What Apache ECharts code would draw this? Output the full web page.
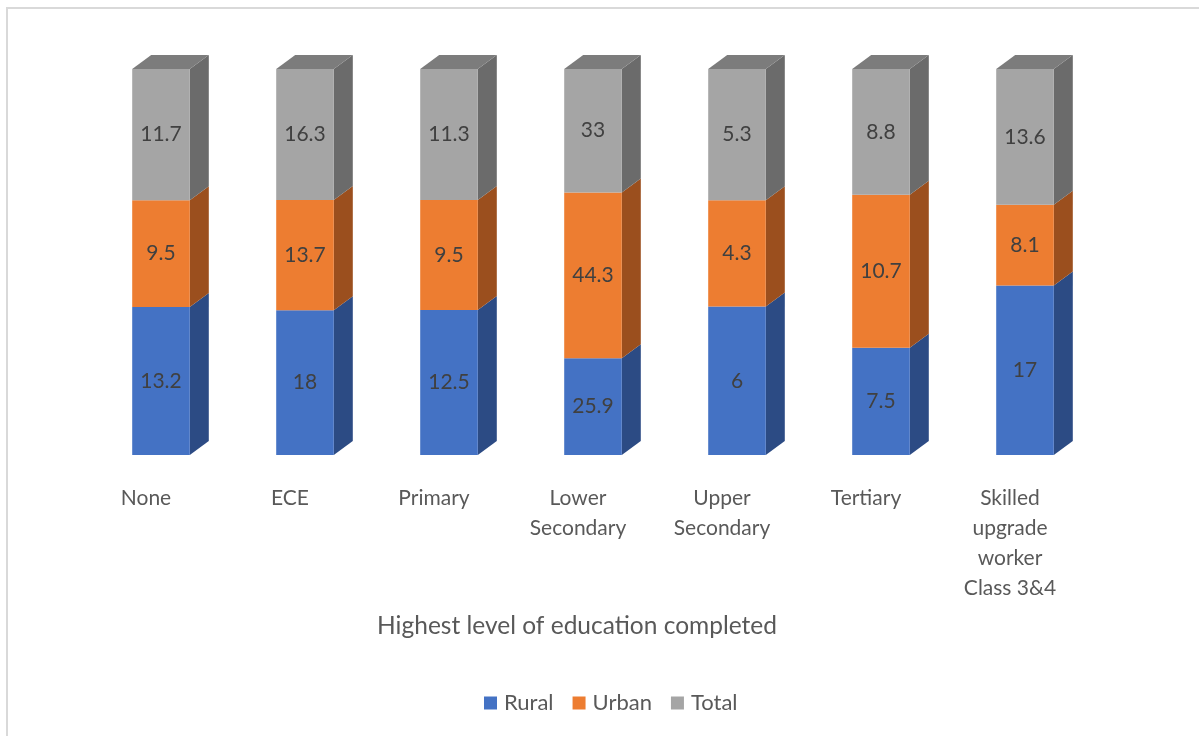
<!DOCTYPE html>
<html>
<head>
<meta charset="utf-8">
<script src="https://cdn.jsdelivr.net/npm/echarts@6/dist/echarts.min.js"></script>
<style>
  html, body { margin: 0; padding: 0; background: #fff; }
  #frame { position: absolute; left: 6px; top: 7px; width: 1300px; height: 900px;
           border: 2px solid #d9d9d9; box-sizing: border-box; }
  #chart { position: absolute; left: 0; top: 0; width: 1199px; height: 736px; }
</style>
</head>
<body>
<div id="frame"></div>
<div id="chart"></div>
<script>
// Education levels (axis labels carry their own line breaks)
const categories = ['None', 'ECE', 'Primary', 'Lower\nSecondary', 'Upper\nSecondary', 'Tertiary', 'Skilled\nupgrade\nworker\nClass 3&4'];
const rural = [13.2, 18, 12.5, 25.9, 6, 7.5, 17];
const urban = [9.5, 13.7, 9.5, 44.3, 4.3, 10.7, 8.1];
const total = [11.7, 16.3, 11.3, 33, 5.3, 8.8, 13.6];

const seriesNames = ['Rural', 'Urban', 'Total'];
const seriesValues = [rural, urban, total];
const frontColors = ['#4472C4', '#ED7D31', '#A5A5A5'];
const sideColors = ['#2C4B84', '#9B4F1E', '#6B6B6B'];
const topColors = ['#3A62A8', '#C96A29', '#7C7C7C'];

const FONT = 'Lato, "Open Sans", sans-serif';
const DEPTH_X = 19, DEPTH_Y = 14;

// 100% stacking: each category's segments are shares of its own sum
const sums = categories.map((_, i) => rural[i] + urban[i] + total[i]);
const shares = seriesValues.map(arr => arr.map((v, i) => v / sums[i] * 100));
const starts = seriesValues.map((_, s) => categories.map((_, i) => {
  let acc = 0;
  for (let k = 0; k < s; k++) acc += shares[k][i];
  return acc;
}));

function makeSeries(s) {
  const data = categories.map((_, i) => [i, starts[s][i], starts[s][i] + shares[s][i], seriesValues[s][i]]);
  const isTop = s === seriesValues.length - 1;
  return {
    type: 'custom',
    name: seriesNames[s],
    color: frontColors[s],
    data: data,
    encode: { x: 0, y: [1, 2] },
    renderItem: function (params, api) {
      const idx = api.value(0);
      const lo = api.coord([idx, api.value(1)]);
      const hi = api.coord([idx, api.value(2)]);
      const band = api.size([1, 0])[0];
      const w = band * 0.4;
      const x0 = lo[0] - w / 2, x1 = lo[0] + w / 2;
      const yb = lo[1], yt = hi[1];
      const children = [
        { type: 'polygon', shape: { points: [[x1, yt], [x1 + DEPTH_X, yt - DEPTH_Y], [x1 + DEPTH_X, yb - DEPTH_Y], [x1, yb]] },
          style: { fill: sideColors[s] } },
        { type: 'rect', shape: { x: x0, y: yt, width: w, height: yb - yt },
          style: { fill: frontColors[s] } }
      ];
      if (isTop) {
        children.push({ type: 'polygon', shape: { points: [[x0, yt], [x0 + DEPTH_X, yt - DEPTH_Y], [x1 + DEPTH_X, yt - DEPTH_Y], [x1, yt]] },
          style: { fill: topColors[s] } });
      }
      children.push({ type: 'text', style: { x: (x0 + x1) / 2, y: (yt + yb) / 2, text: String(api.value(3)),
        fill: '#404040', font: '21px ' + FONT, align: 'center', verticalAlign: 'middle' } });
      return { type: 'group', children: children };
    }
  };
}

const chart = echarts.init(document.getElementById('chart'), null, { renderer: 'canvas' });
chart.setOption({
  animation: false,
  grid: { left: 89, right: 102, top: 69, bottom: 281 },
  legend: {
    data: seriesNames,
    left: 479, top: 687,
    itemWidth: 13, itemHeight: 13, itemGap: 19,
    icon: 'rect',
    textStyle: { fontFamily: FONT, fontSize: 22, color: '#595959', padding: [0, 0, 0, 2] }
  },
  xAxis: {
    type: 'category',
    data: categories,
    axisLine: { show: false },
    axisTick: { show: false },
    axisLabel: { interval: 0, margin: 28, fontFamily: FONT, fontSize: 21, lineHeight: 30, color: '#595959',
                 padding: [0, 30, 0, 0] }
  },
  yAxis: { type: 'value', min: 0, max: 100, show: false, splitLine: { show: false } },
  graphic: [{
    type: 'text', x: 577, y: 626,
    style: { text: 'Highest level of education completed', font: '24.5px ' + FONT, fill: '#595959',
             align: 'center', verticalAlign: 'middle' }
  }],
  series: [0, 1, 2].map(makeSeries)
});
</script>
</body>
</html>
